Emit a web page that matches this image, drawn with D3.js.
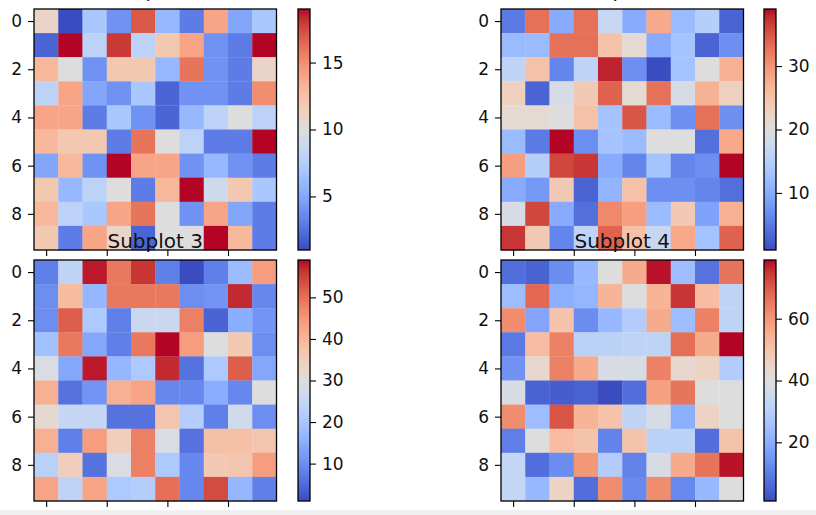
<!DOCTYPE html>
<html>
<head>
<meta charset="utf-8">
<script src="https://cdn.jsdelivr.net/npm/d3@7"></script>
<style>
body { margin: 0; background: #fff; }
text { font-family: "DejaVu Sans", sans-serif; fill: #111; }
</style>
</head>
<body>
<div id="graph"></div>
<script>
var titles = ['Subplot 1', 'Subplot 2', 'Subplot 3', 'Subplot 4']

var data1 = [
  [11, 1, 7, 4, 17, 6, 3, 14, 5, 7],
  [2, 19, 8, 18, 8, 12, 14, 4, 3, 19],
  [13, 10, 4, 12, 12, 6, 16, 4, 3, 11],
  [8, 14, 5, 4, 7, 2, 4, 4, 3, 15],
  [14, 14, 3, 7, 4, 2, 6, 8, 10, 8],
  [13, 12, 12, 3, 16, 10, 8, 3, 3, 19],
  [5, 13, 4, 19, 14, 14, 4, 6, 4, 3],
  [12, 6, 8, 10, 3, 13, 19, 9, 12, 7],
  [13, 8, 7, 14, 16, 10, 4, 14, 5, 3],
  [12, 3, 14, 11, 2, 10, 10, 19, 13, 3]
]

var data2 = [
  [5, 33, 10, 33, 17, 10, 28, 12, 15, 3],
  [12, 12, 33, 33, 25, 21, 10, 13, 3, 7],
  [16, 25, 6, 16, 38, 7, 1, 13, 20, 27],
  [23, 3, 19, 24, 34, 21, 33, 19, 27, 23],
  [21, 21, 20, 25, 13, 35, 12, 7, 33, 7],
  [12, 5, 39, 7, 13, 12, 20, 20, 4, 28],
  [29, 15, 36, 37, 10, 6, 13, 6, 7, 39],
  [10, 8, 24, 3, 11, 25, 7, 7, 6, 4],
  [19, 36, 10, 4, 31, 29, 12, 24, 9, 27],
  [37, 24, 6, 16, 34, 25, 17, 28, 13, 34]
]

var data3 = [
  [8, 24, 58, 49, 56, 8, 1, 8, 18, 44],
  [10, 39, 17, 49, 49, 49, 10, 11, 57, 9],
  [10, 52, 21, 8, 26, 26, 48, 4, 15, 11],
  [19, 49, 14, 8, 49, 59, 44, 30, 36, 10],
  [29, 14, 58, 17, 21, 57, 6, 21, 52, 14],
  [41, 6, 11, 41, 43, 9, 9, 15, 9, 30],
  [32, 25, 25, 6, 6, 37, 22, 8, 27, 10],
  [41, 8, 44, 35, 48, 29, 6, 38, 38, 37],
  [23, 35, 6, 29, 48, 21, 9, 36, 37, 44],
  [43, 24, 43, 21, 22, 50, 9, 54, 17, 8]
]

var data4 = [
  [7, 5, 13, 23, 40, 56, 78, 24, 8, 66],
  [24, 68, 20, 22, 54, 40, 54, 75, 52, 32],
  [62, 18, 50, 13, 23, 29, 56, 24, 64, 32],
  [9, 52, 64, 31, 31, 32, 32, 67, 56, 79],
  [14, 43, 64, 56, 38, 38, 64, 43, 45, 29],
  [38, 5, 4, 5, 1, 7, 58, 66, 40, 40],
  [62, 24, 71, 54, 50, 32, 38, 20, 45, 40],
  [10, 40, 52, 50, 11, 50, 31, 31, 7, 50],
  [33, 7, 13, 60, 29, 11, 38, 56, 66, 78],
  [33, 23, 45, 7, 62, 12, 62, 12, 23, 40]
]

var cbTicks = [[5, 10, 15], [10, 20, 30], [10, 20, 30, 40, 50], [20, 40, 60]]
var yTicks = [0, 2, 4, 6, 8]
var xTicks = [0, 2.5, 5, 7.5]

// matplotlib coolwarm (Moreland), 33 evenly spaced stops
var coolwarmStops = [
  '#3b4cc0', '#445acc', '#4d68d7', '#5775e1', '#6282ea', '#6c8ef1', '#779af7', '#82a5fb',
  '#8db0fe', '#98b9ff', '#a3c2ff', '#aec9fd', '#b8d0f9', '#c2d5f4', '#ccd9ee', '#d5dbe6',
  '#dddddd', '#e5d8d1', '#ecd3c5', '#f1ccb8', '#f5c4ac', '#f7bba0', '#f7b194', '#f7a687',
  '#f49a7b', '#f18d6f', '#ec7f63', '#e57058', '#de604d', '#d55042', '#cb3e38', '#c0282f',
  '#b40426'
]
var coolwarm = d3.piecewise(d3.interpolateRgb, coolwarmStops)

var panels = [
  {data: data1, left: 34, top: 9, cbLeft: 298},
  {data: data2, left: 501, top: 9, cbLeft: 764},
  {data: data3, left: 34, top: 260, cbLeft: 298},
  {data: data4, left: 501, top: 260, cbLeft: 764}
]

var svg = d3.select('#graph').append('svg')
  .attr('width', 816).attr('height', 515)

// light strip along the bottom of the screenshot
svg.append('rect').attr('x', 0).attr('y', 510).attr('width', 816).attr('height', 5)
  .attr('fill', '#f0f0f0')

var W = 242.5, H = 241, cbW = 12

panels.forEach((p, i) => {
  var g = svg.append('g')
  var flat = p.data.flatMap((row, r) => row.map((v, c) => ({r, c, v})))
  var ext = d3.extent(flat, d => d.v)
  var color = d3.scaleSequential(coolwarm).domain(ext)

  var x = d3.scaleLinear().domain([-0.5, 9.5]).range([p.left, p.left + W])
  var y = d3.scaleLinear().domain([-0.5, 9.5]).range([p.top, p.top + H])

  g.selectAll('rect.cell').data(flat).join('rect')
    .attr('class', 'cell')
    .attr('x', d => x(d.c - 0.5))
    .attr('y', d => y(d.r - 0.5))
    .attr('width', d => x(d.c + 0.5) - x(d.c - 0.5) + 0.3)
    .attr('height', d => y(d.r + 0.5) - y(d.r - 0.5) + 0.3)
    .attr('fill', d => color(d.v))

  g.append('rect')
    .attr('x', p.left).attr('y', p.top).attr('width', W).attr('height', H)
    .attr('fill', 'none').attr('stroke', '#000').attr('stroke-width', 1.3)

  var yAxis = g.append('g').attr('transform', `translate(${p.left},0)`)
    .call(d3.axisLeft(y).tickValues(yTicks).tickSize(6).tickPadding(6).tickFormat(d3.format('d')))
  var xAxis = g.append('g').attr('transform', `translate(0,${p.top + H})`)
    .call(d3.axisBottom(x).tickValues(xTicks).tickSize(6).tickFormat(''))

  ;[yAxis, xAxis].forEach(a => {
    a.select('.domain').remove()
    a.selectAll('.tick line').attr('stroke', '#000').attr('stroke-width', 1.1)
    a.selectAll('.tick text').attr('font-size', 17).attr('fill', '#111')
      .attr('font-family', '"DejaVu Sans", sans-serif')
  })

  // colorbar
  var gid = 'cb' + i
  var grad = svg.append('defs').append('linearGradient').attr('id', gid)
    .attr('x1', 0).attr('y1', 1).attr('x2', 0).attr('y2', 0)
  grad.selectAll('stop').data(coolwarmStops).join('stop')
    .attr('offset', (d, k) => k / (coolwarmStops.length - 1))
    .attr('stop-color', d => d)

  var cy = d3.scaleLinear().domain(ext).range([p.top + H, p.top])
  g.append('rect')
    .attr('x', p.cbLeft).attr('y', p.top).attr('width', cbW).attr('height', H)
    .attr('fill', `url(#${gid})`).attr('stroke', '#000').attr('stroke-width', 1.3)

  var cAxis = g.append('g').attr('transform', `translate(${p.cbLeft + cbW},0)`)
    .call(d3.axisRight(cy).tickValues(cbTicks[i]).tickSize(6).tickPadding(6).tickFormat(d3.format('d')))
  cAxis.select('.domain').remove()
  cAxis.selectAll('.tick line').attr('stroke', '#000').attr('stroke-width', 1.1)
  cAxis.selectAll('.tick text').attr('font-size', 17).attr('fill', '#111')
    .attr('font-family', '"DejaVu Sans", sans-serif')
})

// titles go on after all panels, so the lower titles sit over the upper images
panels.forEach((p, i) => {
  svg.append('text')
    .text(titles[i])
    .attr('x', p.left + W / 2).attr('y', p.top - 12)
    .attr('text-anchor', 'middle').attr('font-size', 20)
})
</script>
</body>
</html>
